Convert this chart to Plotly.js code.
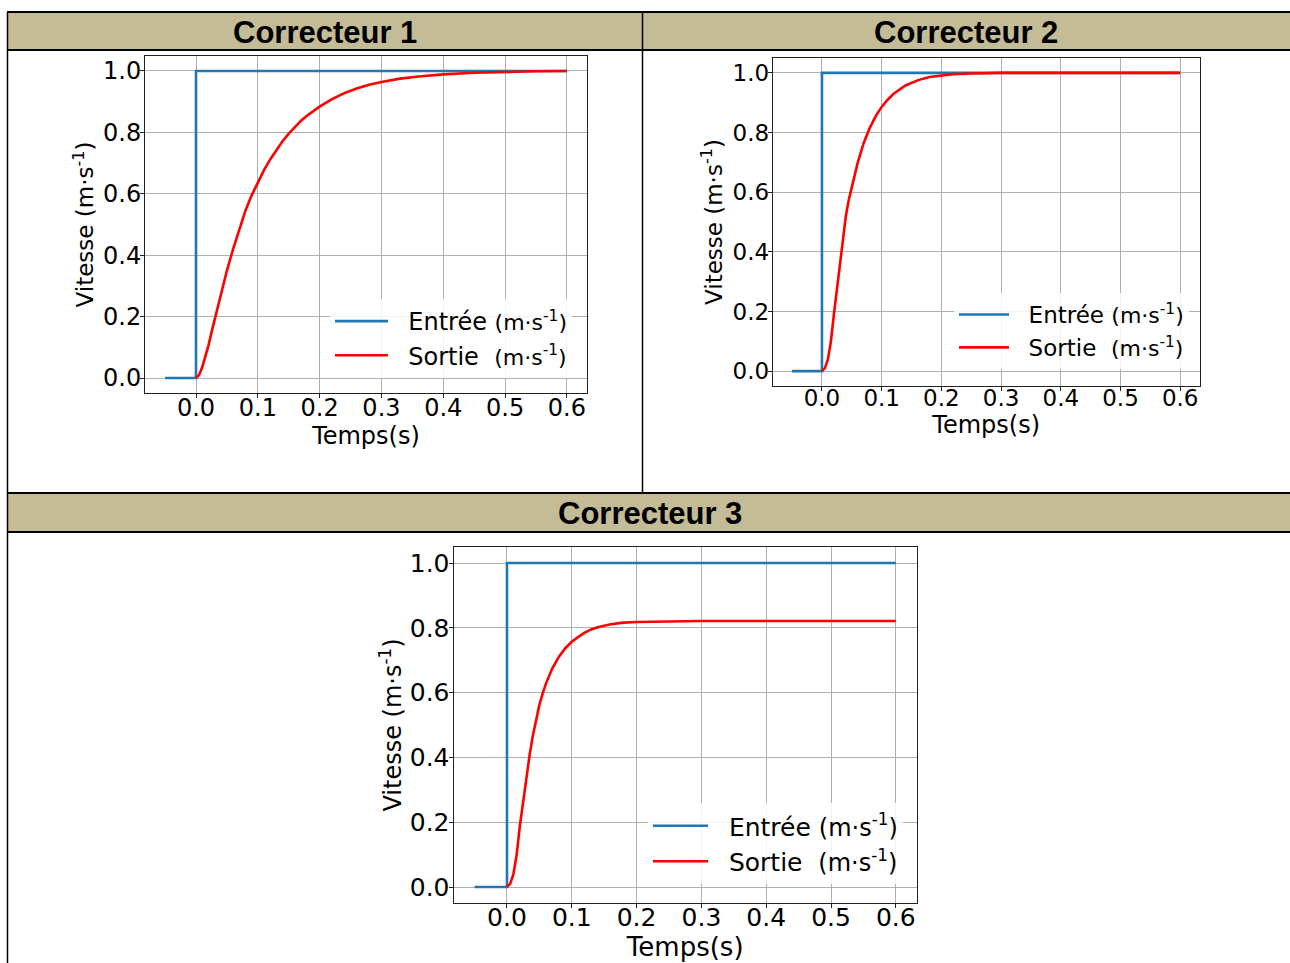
<!DOCTYPE html>
<html>
<head>
<meta charset="utf-8">
<script src="https://cdn.plot.ly/plotly-3.0.1.min.js"></script>
<style>html,body{margin:0;padding:0;background:#fff;}#chart{width:1290px;height:963px;}</style>
</head>
<body>
<div id="chart"></div>
<script>
// ---------- data ----------
const panelTitles = ["Correcteur 1", "Correcteur 2", "Correcteur 3"];
const xTickVals = [0.0, 0.1, 0.2, 0.3, 0.4, 0.5, 0.6];
const yTickVals = [0.0, 0.2, 0.4, 0.6, 0.8, 1.0];

const entreeT = [-0.05, 0.0, 0.0, 0.6];
const entreeV = [0.0, 0.0, 1.0, 1.0];

const sortie1T = [0, 0.005, 0.01, 0.015, 0.02, 0.025, 0.03, 0.04, 0.05, 0.06, 0.07, 0.08, 0.09, 0.10, 0.11, 0.12, 0.13, 0.14, 0.15, 0.16, 0.17, 0.18, 0.19, 0.20, 0.22, 0.24, 0.26, 0.28, 0.30, 0.33, 0.36, 0.40, 0.45, 0.50, 0.55, 0.60];
const sortie1V = [0, 0.01, 0.035, 0.068, 0.105, 0.148, 0.19, 0.275, 0.35, 0.42, 0.485, 0.545, 0.595, 0.638, 0.677, 0.712, 0.743, 0.771, 0.796, 0.818, 0.838, 0.855, 0.871, 0.884, 0.908, 0.928, 0.943, 0.955, 0.964, 0.975, 0.982, 0.989, 0.994, 0.997, 0.999, 1.0];

const sortie2T = [0, 0.005, 0.01, 0.015, 0.02, 0.025, 0.03, 0.035, 0.04, 0.045, 0.05, 0.055, 0.06, 0.07, 0.08, 0.09, 0.10, 0.11, 0.12, 0.14, 0.16, 0.18, 0.20, 0.22, 0.25, 0.30, 0.60];
const sortie2V = [0, 0.01, 0.04, 0.10, 0.19, 0.275, 0.36, 0.445, 0.52, 0.575, 0.62, 0.662, 0.70, 0.765, 0.815, 0.855, 0.886, 0.91, 0.93, 0.958, 0.975, 0.986, 0.992, 0.996, 0.998, 1.0, 1.0];

const sortie3T = [0, 0.005, 0.01, 0.015, 0.02, 0.025, 0.03, 0.035, 0.04, 0.045, 0.05, 0.055, 0.06, 0.07, 0.08, 0.09, 0.10, 0.11, 0.12, 0.13, 0.14, 0.16, 0.18, 0.20, 0.25, 0.30, 0.60];
const sortie3V = [0, 0.01, 0.04, 0.10, 0.19, 0.267, 0.34, 0.408, 0.468, 0.52, 0.562, 0.597, 0.627, 0.675, 0.71, 0.737, 0.757, 0.772, 0.785, 0.795, 0.802, 0.811, 0.816, 0.818, 0.82, 0.821, 0.821];

const sortieT = [sortie1T, sortie2T, sortie3T];
const sortieV = [sortie1V, sortie2V, sortie3V];

// ---------- layout helpers ----------
const W = 1290, H = 963;
const px = x => x / W;
const py = y => 1 - y / H;
const NB = '\u00a0';

// panel geometry (pixels): plot frame left,right,top,bottom ; font sizes ; legend anchor
const panels = [
  {l:145, r:587, t:55.6, b:393.4, fs:24, yfs:23, xfs:24, lfs:24, ufs:22, iw:53, lx:572, ly:378, ystand:2, xstand:0, xls:-11, yls:-6},
  {l:772.7, r:1199.6, t:58, b:386, fs:23, yfs:23, xfs:24, lfs:23, ufs:22, iw:50, lx:1189, ly:369, ystand:3, xstand:0, xls:-13, yls:-6},
  {l:453.5, r:916.9, t:546.8, b:903.2, fs:25, yfs:24, xfs:26, lfs:25, ufs:24, iw:55, lx:903, ly:884, ystand:1, xstand:0, xls:-12, yls:-6}
];

const traces = [];
const layout = {
  width: W, height: H,
  margin: {l:0, r:0, t:0, b:0, pad:0},
  paper_bgcolor: '#ffffff', plot_bgcolor: '#ffffff',
  font: {family: 'DejaVu Sans', color: '#000000'},
  showlegend: true,
  hovermode: false,
  shapes: [],
  annotations: []
};

panels.forEach((p, i) => {
  const sfx = i === 0 ? '' : String(i + 1);
  const xa = 'x' + sfx, ya = 'y' + sfx;
  const lg = 'legend' + sfx;
  const u = '<span style="font-size:' + p.ufs + 'px">(m·s<sup>-1</sup>)</span>';
  traces.push({
    x: entreeT, y: entreeV, xaxis: xa, yaxis: ya, legend: lg,
    type: 'scatter', mode: 'lines', name: NB + NB + 'Entrée ' + u,
    line: {color: '#1f77b4', width: 2.6}
  });
  traces.push({
    x: sortieT[i], y: sortieV[i], xaxis: xa, yaxis: ya, legend: lg,
    type: 'scatter', mode: 'lines', name: NB + NB + 'Sortie' + NB + NB + u,
    line: {color: '#ff0000', width: 2.6}
  });
  const axCommon = {
    showgrid: true, gridcolor: '#b0b0b0', gridwidth: 1,
    zeroline: false, showline: true, mirror: true,
    linecolor: '#222222', linewidth: 1,
    ticks: 'outside', ticklen: 4, tickcolor: '#222222', tickwidth: 1,
    tickfont: {family: 'DejaVu Sans', size: p.fs, color: '#000'},
    fixedrange: true
  };
  layout['xaxis' + sfx] = Object.assign({}, axCommon, {
    anchor: ya,
    domain: [px(p.l), px(p.r)],
    range: [-0.0825, 0.6325],
    tickvals: xTickVals, tickformat: '.1f',
    ticklabelstandoff: p.xls,
    title: {text: 'Temps(s)', font: {family: 'DejaVu Sans', size: p.xfs}, standoff: p.xstand}
  });
  layout['yaxis' + sfx] = Object.assign({}, axCommon, {
    anchor: xa,
    domain: [py(p.b), py(p.t)],
    range: [-0.05, 1.05],
    tickvals: yTickVals, tickformat: '.1f',
    ticklabelstandoff: p.yls,
    title: {text: 'Vitesse (m·s<sup>-1</sup>)', font: {family: 'DejaVu Sans', size: p.yfs}, standoff: p.ystand}
  });
  layout[lg] = {
    x: px(p.lx), y: py(p.ly), xanchor: 'right', yanchor: 'bottom',
    xref: 'paper', yref: 'paper',
    bgcolor: 'rgba(255,255,255,0.85)', borderwidth: 0,
    font: {family: 'DejaVu Sans', size: p.lfs, color: '#000'},
    itemwidth: p.iw, traceorder: 'normal'
  };
});

// ---------- table frame ----------
const beige = '#c4bc96';
layout.shapes.push(
  {type:'rect', xref:'paper', yref:'paper', x0:px(7), x1:px(1290), y0:py(50), y1:py(12), fillcolor:beige, line:{width:0}, layer:'below'},
  {type:'rect', xref:'paper', yref:'paper', x0:px(7), x1:px(1290), y0:py(532), y1:py(493), fillcolor:beige, line:{width:0}, layer:'below'},
  {type:'line', xref:'paper', yref:'paper', x0:px(7), x1:px(1290), y0:py(12), y1:py(12), line:{color:'#000', width:2}},
  {type:'line', xref:'paper', yref:'paper', x0:px(7), x1:px(1290), y0:py(50), y1:py(50), line:{color:'#000', width:2}},
  {type:'line', xref:'paper', yref:'paper', x0:px(7), x1:px(1290), y0:py(493), y1:py(493), line:{color:'#000', width:2}},
  {type:'line', xref:'paper', yref:'paper', x0:px(7), x1:px(1290), y0:py(532), y1:py(532), line:{color:'#000', width:2}},
  {type:'line', xref:'paper', yref:'paper', x0:px(7.5), x1:px(7.5), y0:py(12), y1:py(963), line:{color:'#000', width:1.5}},
  {type:'line', xref:'paper', yref:'paper', x0:px(642.5), x1:px(642.5), y0:py(12), y1:py(493), line:{color:'#000', width:1.5}}
);

const titlePos = [[325, 32.5], [966, 32.5], [650, 513.5]];
panelTitles.forEach((tt, i) => {
  layout.annotations.push({
    xref:'paper', yref:'paper', x: px(titlePos[i][0]), y: py(titlePos[i][1]),
    xanchor:'center', yanchor:'middle', showarrow:false,
    text: '<b>' + tt + '</b>',
    font: {family: 'Liberation Sans, Arial, sans-serif', size: 31, color: '#000'}
  });
});

Plotly.newPlot('chart', traces, layout, {staticPlot: true, displayModeBar: false});
</script>
</body>
</html>
